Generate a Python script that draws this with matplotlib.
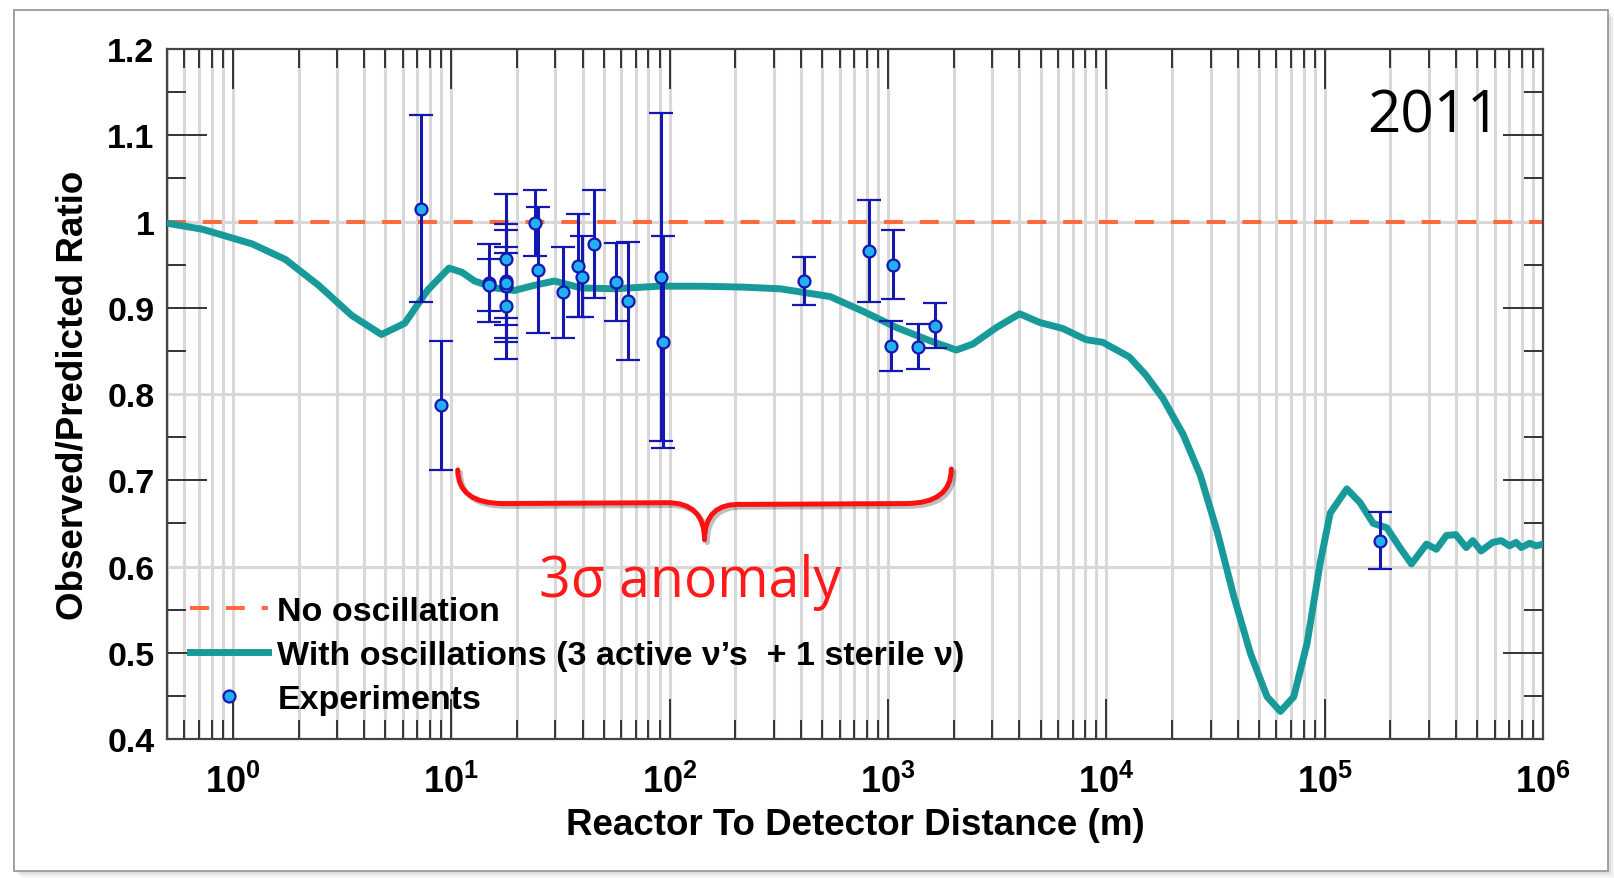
import matplotlib
matplotlib.use("Agg")
import matplotlib.pyplot as plt
import matplotlib.ticker as ticker
import matplotlib.patches as patches
import matplotlib.patheffects as pe
from matplotlib.path import Path
import numpy as np

plt.rcParams['font.family'] = ['Liberation Sans', 'DejaVu Sans']
plt.rcParams['font.weight'] = 'bold'
plt.rcParams['axes.labelweight'] = 'bold'
plt.rcParams['mathtext.fontset'] = 'custom'
plt.rcParams['mathtext.bf'] = 'Liberation Sans:bold'
plt.rcParams['mathtext.rm'] = 'Liberation Sans:bold'

# 3+1 oscillation prediction, as (log10 distance [m], ratio)
curve_logx = [-0.301, -0.138, 0.089, 0.241, 0.393, 0.545, 0.681, 0.787, 0.894, 0.99,
              1.05, 1.107, 1.2, 1.289, 1.38, 1.472, 1.595, 1.75, 1.95, 2.142,
              2.33, 2.507, 2.735, 2.885, 3.04, 3.19, 3.313, 3.389, 3.496, 3.603,
              3.694, 3.8, 3.907, 3.983, 4.105, 4.181, 4.259, 4.352, 4.43, 4.508,
              4.584, 4.66, 4.736, 4.797, 4.858, 4.919, 4.979, 5.025, 5.101, 5.162,
              5.222, 5.284, 5.344, 5.397, 5.466, 5.511, 5.557, 5.6, 5.648, 5.678,
              5.716, 5.769, 5.808, 5.846, 5.876, 5.9, 5.938, 5.968, 6.0]
curve_ratio = [0.998, 0.991, 0.974, 0.956, 0.926, 0.891, 0.869, 0.882, 0.921, 0.946,
               0.941, 0.931, 0.923, 0.920, 0.926, 0.931, 0.923, 0.922, 0.925, 0.925,
               0.924, 0.922, 0.913, 0.896, 0.877, 0.862, 0.851, 0.858, 0.877, 0.893,
               0.883, 0.876, 0.863, 0.860, 0.843, 0.822, 0.795, 0.753, 0.706, 0.640,
               0.565, 0.499, 0.449, 0.432, 0.449, 0.511, 0.604, 0.662, 0.690, 0.674,
               0.650, 0.645, 0.622, 0.603, 0.626, 0.620, 0.636, 0.637, 0.622, 0.630,
               0.618, 0.628, 0.630, 0.624, 0.628, 0.622, 0.627, 0.624, 0.626]

# reactor experiments
exp_dist = [7.26, 9.0, 14.9, 14.9, 17.9, 17.9, 17.9, 17.9, 17.9, 24.1,
            24.9, 32.6, 38.1, 39.8, 44.9, 56.9, 64.4, 91.2, 93.4, 411,
            820, 1052, 1033, 1368, 1640, 179000]
exp_ratio = [1.015, 0.787, 0.929, 0.926, 0.956, 0.931, 0.925, 0.929, 0.902, 0.998,
             0.944, 0.918, 0.949, 0.936, 0.974, 0.930, 0.908, 0.936, 0.860, 0.931,
             0.966, 0.950, 0.856, 0.855, 0.879, 0.630]
exp_err = [0.108, 0.075, 0.045, 0.030, 0.076, 0.066, 0.065, 0.041, 0.061, 0.038,
           0.073, 0.053, 0.060, 0.047, 0.063, 0.045, 0.068, 0.190, 0.123, 0.028,
           0.059, 0.040, 0.029, 0.026, 0.026, 0.033]

no_osc_ratio = 1.0
x_range = (0.5, 1e6)
y_range = (0.4, 1.2)
x_decades = [1, 10, 100, 1e3, 1e4, 1e5, 1e6]
grid_y = [0.6, 0.8, 1.0]

legend_labels = ["No oscillation",
                 "With oscillations (3 active \u03bd\u2019s  + 1 sterile \u03bd)",
                 "Experiments"]

fig = plt.figure(figsize=(16.14, 8.79), dpi=100)

# card with a soft drop shadow
for off, alpha in [(7, 0.06), (5, 0.08), (3, 0.12)]:
    fig.patches.append(patches.Rectangle(
        ((14 + off) / 1614, (7 - off) / 879), 1594 / 1614, 861 / 879,
        transform=fig.transFigure, facecolor='#808080', edgecolor='none',
        alpha=alpha, zorder=-12))
fig.patches.append(patches.Rectangle(
    (14 / 1614, 7 / 879), 1594 / 1614, 861 / 879, transform=fig.transFigure,
    facecolor='white', edgecolor='#9a9a9a', linewidth=1.3, zorder=-11))

ax = fig.add_axes([0.1035, 0.1581, 0.8526, 0.785])
ax.set_xscale('log')
ax.set_xlim(*x_range)
ax.set_ylim(*y_range)
ax.set_axisbelow(True)

ax.xaxis.set_major_locator(ticker.FixedLocator(x_decades))
ax.xaxis.set_minor_locator(ticker.LogLocator(base=10, subs=np.arange(2, 10), numticks=100))
ax.xaxis.set_minor_formatter(ticker.NullFormatter())
ax.xaxis.set_major_formatter(ticker.FuncFormatter(
    lambda v, p: r'$\mathbf{10^{%d}}$' % round(np.log10(v))))
ax.yaxis.set_major_locator(ticker.MultipleLocator(0.1))
ax.yaxis.set_minor_locator(ticker.MultipleLocator(0.05))
ax.yaxis.set_major_formatter(ticker.FuncFormatter(lambda v, p: '%g' % round(v, 2)))

ax.grid(True, which='both', axis='x', color='#d8d8d8', linewidth=2.2)
for gy in grid_y:
    ax.axhline(gy, color='#d8d8d8', linewidth=2.2, zorder=0.6)

ax.tick_params(which='both', direction='in', top=True, right=True,
               width=1.4, color='#333333', labelcolor='black')
ax.tick_params(which='major', length=29)
ax.tick_params(which='minor', length=14)
ax.tick_params(axis='x', which='major', labelsize=26, pad=18)
ax.tick_params(axis='y', which='major', labelsize=24.5, pad=9)
for sp in ax.spines.values():
    sp.set_color('#444444')
    sp.set_linewidth(1.6)

no_osc_line, = ax.plot(x_range, [no_osc_ratio, no_osc_ratio], color='#ff6a3d',
                       linewidth=2.9, dashes=(4.7, 4.2), zorder=2)
osc_line, = ax.plot(10 ** np.array(curve_logx), curve_ratio, color='#199a9a',
                    linewidth=5, solid_joinstyle='round', zorder=3)
eb = ax.errorbar(exp_dist, exp_ratio, yerr=exp_err, fmt='o', color='#1616b0',
                 ecolor='#1616b0', elinewidth=2.2, capsize=8.5, capthick=2.2,
                 markersize=8.6, markerfacecolor='#22b0ee',
                 markeredgecolor='#1616b0', markeredgewidth=1.6, zorder=4)

ax.set_xlabel('Reactor To Detector Distance (m)', fontsize=26.5, labelpad=5)
ax.set_ylabel('Observed/Predicted Ratio', fontsize=26.5, labelpad=12)

ax.legend(handles=[no_osc_line, osc_line, eb[0]], labels=legend_labels,
          loc='lower left', bbox_to_anchor=(0.0167, 0.035), frameon=False,
          fontsize=24.5, handlelength=2.3, handletextpad=0.27,
          labelspacing=0.38, borderpad=0, borderaxespad=0)

# curly brace over the short-baseline experiments
brace_lx = [1.03, 1.03, 1.24, 1.99, 2.16, 2.16, 2.16, 2.33, 3.08, 3.29, 3.29]
brace_y = [0.712, 0.673, 0.673, 0.674, 0.674, 0.631, 0.674, 0.672, 0.673, 0.673, 0.713]
brace_codes = [Path.MOVETO, Path.CURVE3, Path.CURVE3, Path.LINETO,
               Path.CURVE3, Path.CURVE3, Path.CURVE3, Path.CURVE3,
               Path.LINETO, Path.CURVE3, Path.CURVE3]
brace = patches.PathPatch(Path(np.column_stack([10 ** np.array(brace_lx), brace_y]), brace_codes),
                          facecolor='none', edgecolor='#ff1010', linewidth=3.6,
                          capstyle='round', joinstyle='round', zorder=5,
                          path_effects=[pe.SimpleLineShadow(offset=(2, -2), alpha=0.25),
                                        pe.Normal()])
ax.add_patch(brace)

ax.text(0.380, 0.207, '3\u03c3 anomaly', transform=ax.transAxes, color='#ff1a1a',
        fontsize=40, fontweight='normal', family=['Open Sans', 'DejaVu Sans'],
        ha='center', va='baseline', zorder=6)
ax.text(0.872, 0.881, '2011', transform=ax.transAxes, color='black',
        fontsize=42, fontweight='normal', family=['Open Sans', 'DejaVu Sans'],
        ha='left', va='baseline', zorder=6)

fig.savefig('out.png', dpi=100, facecolor='white')
